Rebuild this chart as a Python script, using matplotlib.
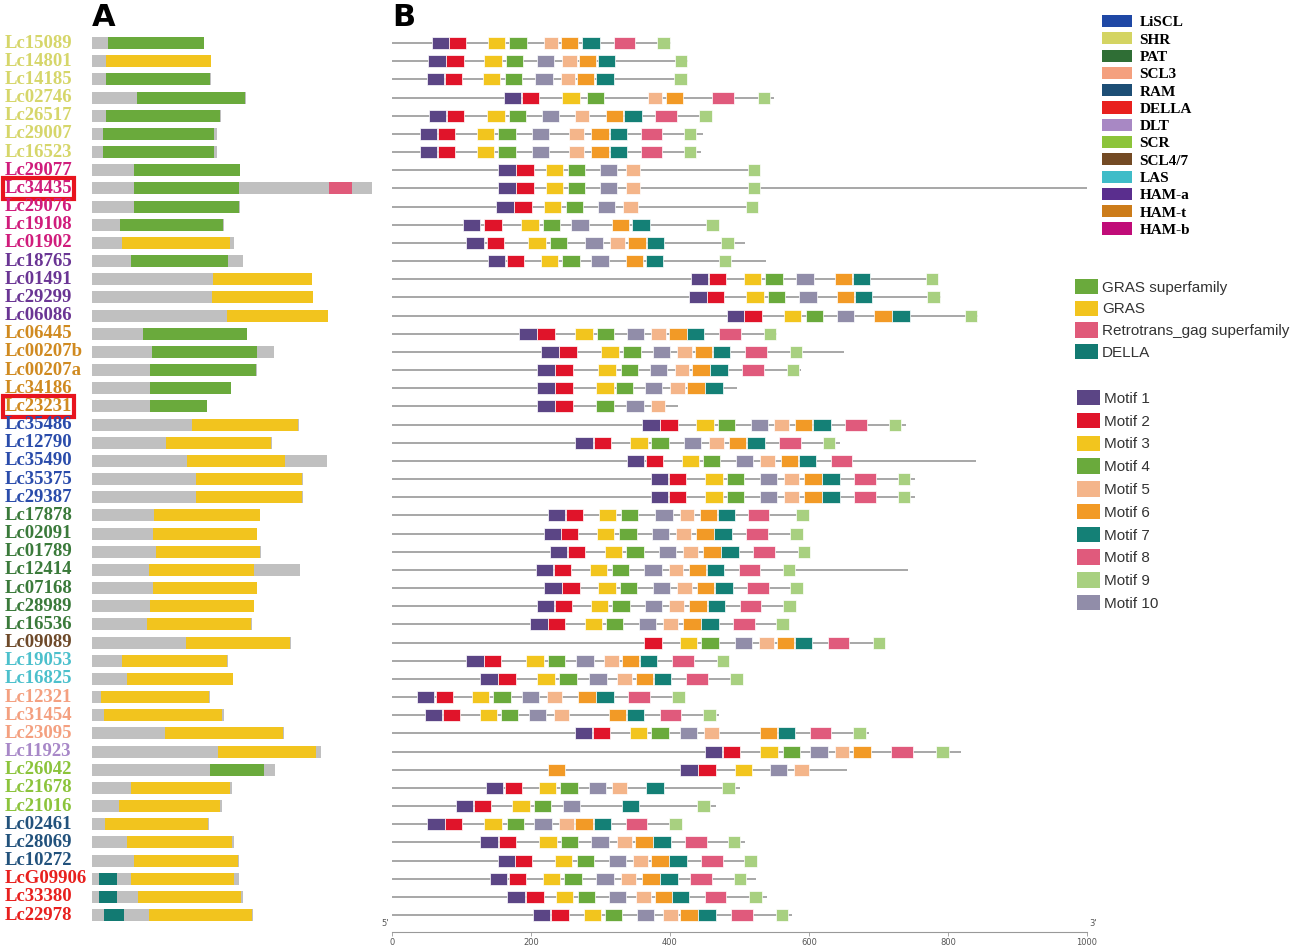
import matplotlib.pyplot as plt
from matplotlib.patches import Patch

# genes, top to bottom
genes = ['Lc15089', 'Lc14801', 'Lc14185', 'Lc02746', 'Lc26517', 'Lc29007', 'Lc16523',
         'Lc29077', 'Lc34435', 'Lc29076', 'Lc19108', 'Lc01902',
         'Lc18765', 'Lc01491', 'Lc29299', 'Lc06086',
         'Lc06445', 'Lc00207b', 'Lc00207a', 'Lc34186', 'Lc23231',
         'Lc35486', 'Lc12790', 'Lc35490', 'Lc35375', 'Lc29387',
         'Lc17878', 'Lc02091', 'Lc01789', 'Lc12414', 'Lc07168', 'Lc28989', 'Lc16536',
         'Lc09089', 'Lc19053', 'Lc16825', 'Lc12321', 'Lc31454', 'Lc23095', 'Lc11923',
         'Lc26042', 'Lc21678', 'Lc21016', 'Lc02461', 'Lc28069', 'Lc10272',
         'LcG09906', 'Lc33380', 'Lc22978']

gene_family = ['SHR'] * 7 + ['HAM-b'] * 5 + ['HAM-a'] * 4 + ['HAM-t'] * 5 + ['LiSCL'] * 5 + \
              ['PAT'] * 7 + ['SCL4/7'] + ['LAS'] * 2 + ['SCL3'] * 3 + ['DLT'] + ['SCR'] * 3 + \
              ['RAM'] * 3 + ['DELLA'] * 3

highlighted = ['Lc34435', 'Lc23231']

family_names = ['LiSCL', 'SHR', 'PAT', 'SCL3', 'RAM', 'DELLA', 'DLT', 'SCR', 'SCL4/7',
                'LAS', 'HAM-a', 'HAM-t', 'HAM-b']
family_colors = ['#1f48a5', '#d4d462', '#2f6e35', '#f4a07e', '#1d4e75', '#e8201e', '#a888c4',
                 '#8cc43a', '#734a24', '#3fbcc8', '#5a2e8e', '#cc7c1a', '#c00c78']
label_colors = {'LiSCL': '#2a4cab', 'SHR': '#d6d66a', 'PAT': '#3a7a3a', 'SCL3': '#f4a080',
                'RAM': '#22527c', 'DELLA': '#e8201e', 'DLT': '#a888c8', 'SCR': '#8cc43c',
                'SCL4/7': '#6e4a2a', 'LAS': '#4cc0cc', 'HAM-a': '#6a3594', 'HAM-t': '#d08a20',
                'HAM-b': '#d01c7c'}

# protein lengths (aa)
prot_len = [401, 426, 424, 550, 460, 447, 445,
            530, 1000, 527, 470, 508,
            538, 786, 790, 843,
            554, 651, 588, 497, 411,
            740, 644, 840, 752, 752,
            600, 590, 602, 742, 591, 580, 571,
            709, 484, 504, 421, 470, 687, 818,
            654, 500, 466, 417, 508, 524,
            524, 539, 575]

# conserved domains (start, end, kind)
domains = [
    [(57, 400, 'g')], [(50, 425, 'y')], [(49, 422, 'g')], [(161, 546, 'g')],
    [(50, 457, 'g')], [(39, 436, 'g')], [(38, 436, 'g')],
    [(150, 529, 'g')], [(150, 524, 'g'), (846, 929, 'r')], [(149, 526, 'g')],
    [(100, 468, 'g')], [(106, 492, 'y')],
    [(138, 486, 'g')], [(433, 786, 'y')], [(429, 789, 'y')], [(482, 843, 'y')],
    [(182, 552, 'g')], [(214, 589, 'g')], [(207, 586, 'g')], [(207, 495, 'g')], [(207, 410, 'g')],
    [(358, 735, 'y')], [(263, 638, 'y')], [(338, 689, 'y')], [(371, 749, 'y')], [(371, 749, 'y')],
    [(223, 599, 'y')], [(217, 589, 'y')], [(227, 600, 'y')], [(205, 579, 'y')],
    [(217, 589, 'y')], [(206, 579, 'y')], [(198, 569, 'y')],
    [(336, 708, 'y')], [(106, 482, 'y')], [(126, 502, 'y')], [(33, 419, 'y')],
    [(43, 465, 'y')], [(262, 683, 'y')], [(449, 799, 'y')],
    [(420, 613, 'g')], [(139, 494, 'y')], [(96, 457, 'y')], [(48, 415, 'y')],
    [(126, 500, 'y')], [(149, 521, 'y')],
    [(24, 90, 't'), (139, 508, 'y')], [(24, 90, 't'), (164, 531, 'y')],
    [(44, 114, 't'), (202, 570, 'y')],
]
domain_names = {'g': 'GRAS superfamily', 'y': 'GRAS', 'r': 'Retrotrans_gag superfamily', 't': 'DELLA'}
domain_colors = {'g': '#6aaa3c', 'y': '#f2c41e', 'r': '#e05a7a', 't': '#127a72'}

# MEME motifs (motif number, start)
motifs = [
    [(1, 57), (2, 82), (3, 138), (4, 169), (5, 218), (6, 243), (7, 274), (8, 319), (9, 382)],
    [(1, 52), (2, 78), (3, 133), (4, 164), (10, 208), (5, 245), (6, 269), (7, 296), (9, 407)],
    [(1, 50), (2, 76), (3, 131), (4, 162), (10, 206), (5, 243), (6, 266), (7, 294), (9, 406)],
    [(1, 161), (2, 187), (3, 245), (4, 280), (5, 368), (6, 394), (8, 461), (9, 526)],
    [(1, 53), (2, 79), (3, 137), (4, 168), (10, 216), (5, 263), (6, 308), (7, 334), (8, 379), (9, 442)],
    [(1, 40), (2, 66), (3, 122), (4, 153), (10, 201), (5, 255), (6, 287), (7, 313), (8, 358), (9, 420)],
    [(1, 40), (2, 66), (3, 122), (4, 153), (10, 201), (5, 255), (6, 287), (7, 313), (8, 358), (9, 420)],
    [(1, 153), (2, 179), (3, 221), (4, 253), (10, 299), (5, 336), (9, 512)],
    [(1, 153), (2, 179), (3, 221), (4, 253), (10, 299), (5, 336), (9, 512)],
    [(1, 150), (2, 176), (3, 218), (4, 250), (10, 296), (5, 333), (9, 509)],
    [(1, 102), (2, 133), (3, 186), (4, 217), (10, 258), (6, 316), (7, 346), (9, 452)],
    [(1, 107), (2, 136), (3, 196), (4, 227), (10, 278), (5, 314), (6, 340), (7, 367), (9, 474)],
    [(1, 138), (2, 165), (3, 214), (4, 245), (10, 287), (6, 336), (7, 365), (9, 470)],
    [(1, 430), (2, 456), (3, 506), (4, 537), (10, 582), (6, 637), (7, 663), (9, 768)],
    [(1, 428), (2, 453), (3, 510), (4, 541), (10, 586), (6, 640), (7, 666), (9, 770)],
    [(1, 482), (2, 507), (3, 564), (4, 595), (10, 640), (6, 694), (7, 720), (9, 824)],
    [(1, 183), (2, 209), (3, 264), (4, 295), (10, 338), (5, 373), (6, 399), (7, 424), (8, 471), (9, 535)],
    [(1, 215), (2, 241), (3, 301), (4, 333), (10, 375), (5, 410), (6, 436), (7, 462), (8, 508), (9, 572)],
    [(1, 209), (2, 235), (3, 297), (4, 329), (10, 371), (5, 407), (6, 432), (7, 458), (8, 504), (9, 568)],
    [(1, 209), (2, 235), (3, 294), (4, 322), (10, 364), (5, 400), (6, 425), (7, 451)],
    [(1, 209), (2, 235), (4, 294), (10, 337), (5, 372)],
    [(1, 360), (2, 386), (3, 438), (4, 469), (10, 516), (5, 550), (6, 580), (7, 606), (8, 652), (9, 715)],
    [(1, 264), (2, 290), (3, 343), (4, 373), (10, 420), (5, 456), (6, 485), (7, 511), (8, 557), (9, 620)],
    [(1, 338), (2, 365), (3, 417), (4, 447), (10, 495), (5, 530), (6, 559), (7, 585), (8, 631)],
    [(1, 372), (2, 398), (3, 451), (4, 482), (10, 529), (5, 564), (6, 593), (7, 619), (8, 665), (9, 728)],
    [(1, 372), (2, 398), (3, 451), (4, 482), (10, 529), (5, 564), (6, 593), (7, 619), (8, 665), (9, 728)],
    [(1, 224), (2, 250), (3, 298), (4, 329), (10, 379), (5, 414), (6, 443), (7, 469), (8, 512), (9, 582)],
    [(1, 218), (2, 243), (3, 295), (4, 327), (10, 374), (5, 409), (6, 438), (7, 464), (8, 510), (9, 573)],
    [(1, 227), (2, 253), (3, 306), (4, 337), (10, 384), (5, 419), (6, 448), (7, 474), (8, 520), (9, 584)],
    [(1, 207), (2, 233), (3, 285), (4, 316), (10, 363), (5, 398), (6, 427), (7, 453), (8, 499), (9, 562)],
    [(1, 219), (2, 245), (3, 297), (4, 328), (10, 375), (5, 410), (6, 439), (7, 465), (8, 511), (9, 573)],
    [(1, 208), (2, 234), (3, 286), (4, 317), (10, 364), (5, 399), (6, 428), (7, 454), (8, 500), (9, 563)],
    [(1, 199), (2, 224), (3, 277), (4, 308), (10, 355), (5, 390), (6, 419), (7, 445), (8, 491), (9, 553)],
    [(2, 363), (3, 414), (4, 445), (10, 493), (5, 528), (6, 554), (7, 580), (8, 627), (9, 692)],
    [(1, 107), (2, 132), (3, 193), (4, 224), (10, 265), (5, 305), (6, 331), (7, 357), (8, 403), (9, 467)],
    [(1, 127), (2, 153), (3, 209), (4, 241), (10, 284), (5, 324), (6, 351), (7, 377), (8, 423), (9, 487)],
    [(1, 36), (2, 63), (3, 115), (4, 146), (10, 187), (5, 223), (6, 268), (7, 294), (8, 340), (9, 403)],
    [(1, 47), (2, 73), (3, 126), (4, 157), (10, 197), (5, 233), (6, 312), (7, 338), (8, 385), (9, 448)],
    [(1, 263), (2, 289), (3, 342), (4, 373), (10, 414), (5, 449), (6, 529), (7, 555), (8, 601), (9, 664)],
    [(1, 450), (2, 476), (3, 530), (4, 562), (10, 602), (5, 637), (6, 664), (8, 718), (9, 783)],
    [(6, 224), (1, 415), (2, 441), (3, 493), (10, 544), (5, 579)],
    [(1, 135), (2, 162), (3, 211), (4, 242), (10, 283), (5, 317), (7, 366), (9, 475)],
    [(1, 92), (2, 118), (3, 173), (4, 204), (10, 246), (7, 331), (9, 439)],
    [(1, 51), (2, 76), (3, 133), (4, 165), (10, 205), (5, 241), (6, 264), (7, 290), (8, 336), (9, 399)],
    [(1, 127), (2, 154), (3, 212), (4, 243), (10, 287), (5, 324), (6, 350), (7, 376), (8, 422), (9, 483)],
    [(1, 152), (2, 177), (3, 234), (4, 266), (10, 312), (5, 347), (6, 373), (7, 399), (8, 445), (9, 507)],
    [(1, 141), (2, 168), (3, 217), (4, 248), (10, 294), (5, 330), (6, 360), (7, 386), (8, 429), (9, 492)],
    [(1, 166), (2, 193), (3, 236), (4, 267), (10, 312), (5, 351), (6, 378), (7, 403), (8, 450), (9, 514)],
    [(1, 203), (2, 229), (3, 276), (4, 306), (10, 352), (5, 390), (6, 415), (7, 441), (8, 488), (9, 552)],
]
motif_ids = list(range(1, 11))
motif_width = {1: 25, 2: 25, 3: 25, 4: 25, 5: 21, 6: 25, 7: 25, 8: 31, 9: 18, 10: 25}
motif_colors = {1: '#5b4585', 2: '#e0142a', 3: '#f2c51e', 4: '#6aaa3c', 5: '#f4b58a',
                6: '#f29a26', 7: '#148076', 8: '#e05a7c', 9: '#a8d080', 10: '#918da9'}

W, H = 1299, 948
fig = plt.figure(figsize=(W / 100, H / 100), dpi=100)

n = len(genes)
rows = list(range(n))
top_px, bot_px = 34.0, 932
ylim = (n - 0.5 + (bot_px - 924.1) / 18.17, -0.5)

axA = fig.add_axes([92 / W, 1 - bot_px / H, 280 / W, (bot_px - top_px) / H])
axB = fig.add_axes([392 / W, 1 - bot_px / H, 695 / W, (bot_px - top_px) / H])

bar_h = 0.66

# panel A: protein with domains
for i in rows:
    axA.barh(i, prot_len[i], left=0, height=bar_h, color='#c0c0c0', linewidth=0)
    for s, e, k in domains[i]:
        axA.barh(i, e - s, left=s, height=bar_h, color=domain_colors[k], linewidth=0)
axA.set_xlim(0, 1000)
axA.set_ylim(*ylim)
axA.axis('off')

lab_tr = axA.get_yaxis_transform()
for i, g in enumerate(genes):
    kw = {}
    if g in highlighted:
        kw['bbox'] = dict(boxstyle='square,pad=0.1', fc='white', ec='#e8141e', lw=3)
    axA.text(-0.311, i, g, transform=lab_tr, ha='left', va='center', fontsize=13.5,
             family='Liberation Serif', weight='bold', color=label_colors[gene_family[i]], **kw)

# panel B: motifs
axB.hlines(rows, 0, prot_len, color='#a0a0a0', lw=1.3, zorder=1)
for i in rows:
    for m, s in motifs[i]:
        axB.barh(i, motif_width[m], left=s, height=bar_h, color=motif_colors[m],
                 edgecolor='white', linewidth=0.5, zorder=2)
axB.set_xlim(0, 1000)
axB.set_ylim(*ylim)
for sp in ['top', 'left', 'right']:
    axB.spines[sp].set_visible(False)
axB.spines['bottom'].set_color('#999999')
axB.spines['bottom'].set_linewidth(0.8)
axB.set_yticks([])
axB.set_xticks([0, 200, 400, 600, 800, 1000])
axB.tick_params(axis='x', length=3, width=0.6, color='#999999', labelsize=6,
                labelcolor='#555555', pad=1.5)
axB.text(-0.004, 0.004, "5'", transform=axB.transAxes, ha='right', va='bottom',
         fontsize=6, color='#555555')
axB.text(1.004, 0.004, "3'", transform=axB.transAxes, ha='left', va='bottom',
         fontsize=6, color='#555555')

fig.text(92 / W, 1 - 3 / H, 'A', ha='left', va='top', fontsize=22, weight='bold')
fig.text(392 / W, 1 - 3 / H, 'B', ha='left', va='top', fontsize=22, weight='bold')

# legends
fam_h = [Patch(facecolor=c, edgecolor='none') for c in family_colors]
fig.legend(fam_h, family_names, loc='upper left', bbox_to_anchor=(1102 / W, 1 - 15 / H),
           frameon=False, borderpad=0, borderaxespad=0, handlelength=1.95, handleheight=0.85,
           handletextpad=0.5, labelspacing=0.19,
           prop={'family': 'Liberation Serif', 'weight': 'bold', 'size': 11})

dom_keys = ['g', 'y', 'r', 't']
dom_h = [Patch(facecolor=domain_colors[k], edgecolor='none') for k in dom_keys]
fig.legend(dom_h, [domain_names[k] for k in dom_keys], loc='upper left',
           bbox_to_anchor=(1075 / W, 1 - 279 / H), frameon=False, borderpad=0,
           borderaxespad=0, handlelength=1.5, handleheight=1.18, handletextpad=0.27,
           labelspacing=0.37, labelcolor='#333333', prop={'family': 'Liberation Sans', 'size': 11})

mot_h = [Patch(facecolor=motif_colors[m], edgecolor='none') for m in motif_ids]
fig.legend(mot_h, ['Motif %d' % m for m in motif_ids], loc='upper left',
           bbox_to_anchor=(1077 / W, 1 - 390 / H), frameon=False, borderpad=0,
           borderaxespad=0, handlelength=1.5, handleheight=1.18, handletextpad=0.27,
           labelspacing=0.45, labelcolor='#333333', prop={'family': 'Liberation Sans', 'size': 11})

fig.savefig('out.png', dpi=100)
